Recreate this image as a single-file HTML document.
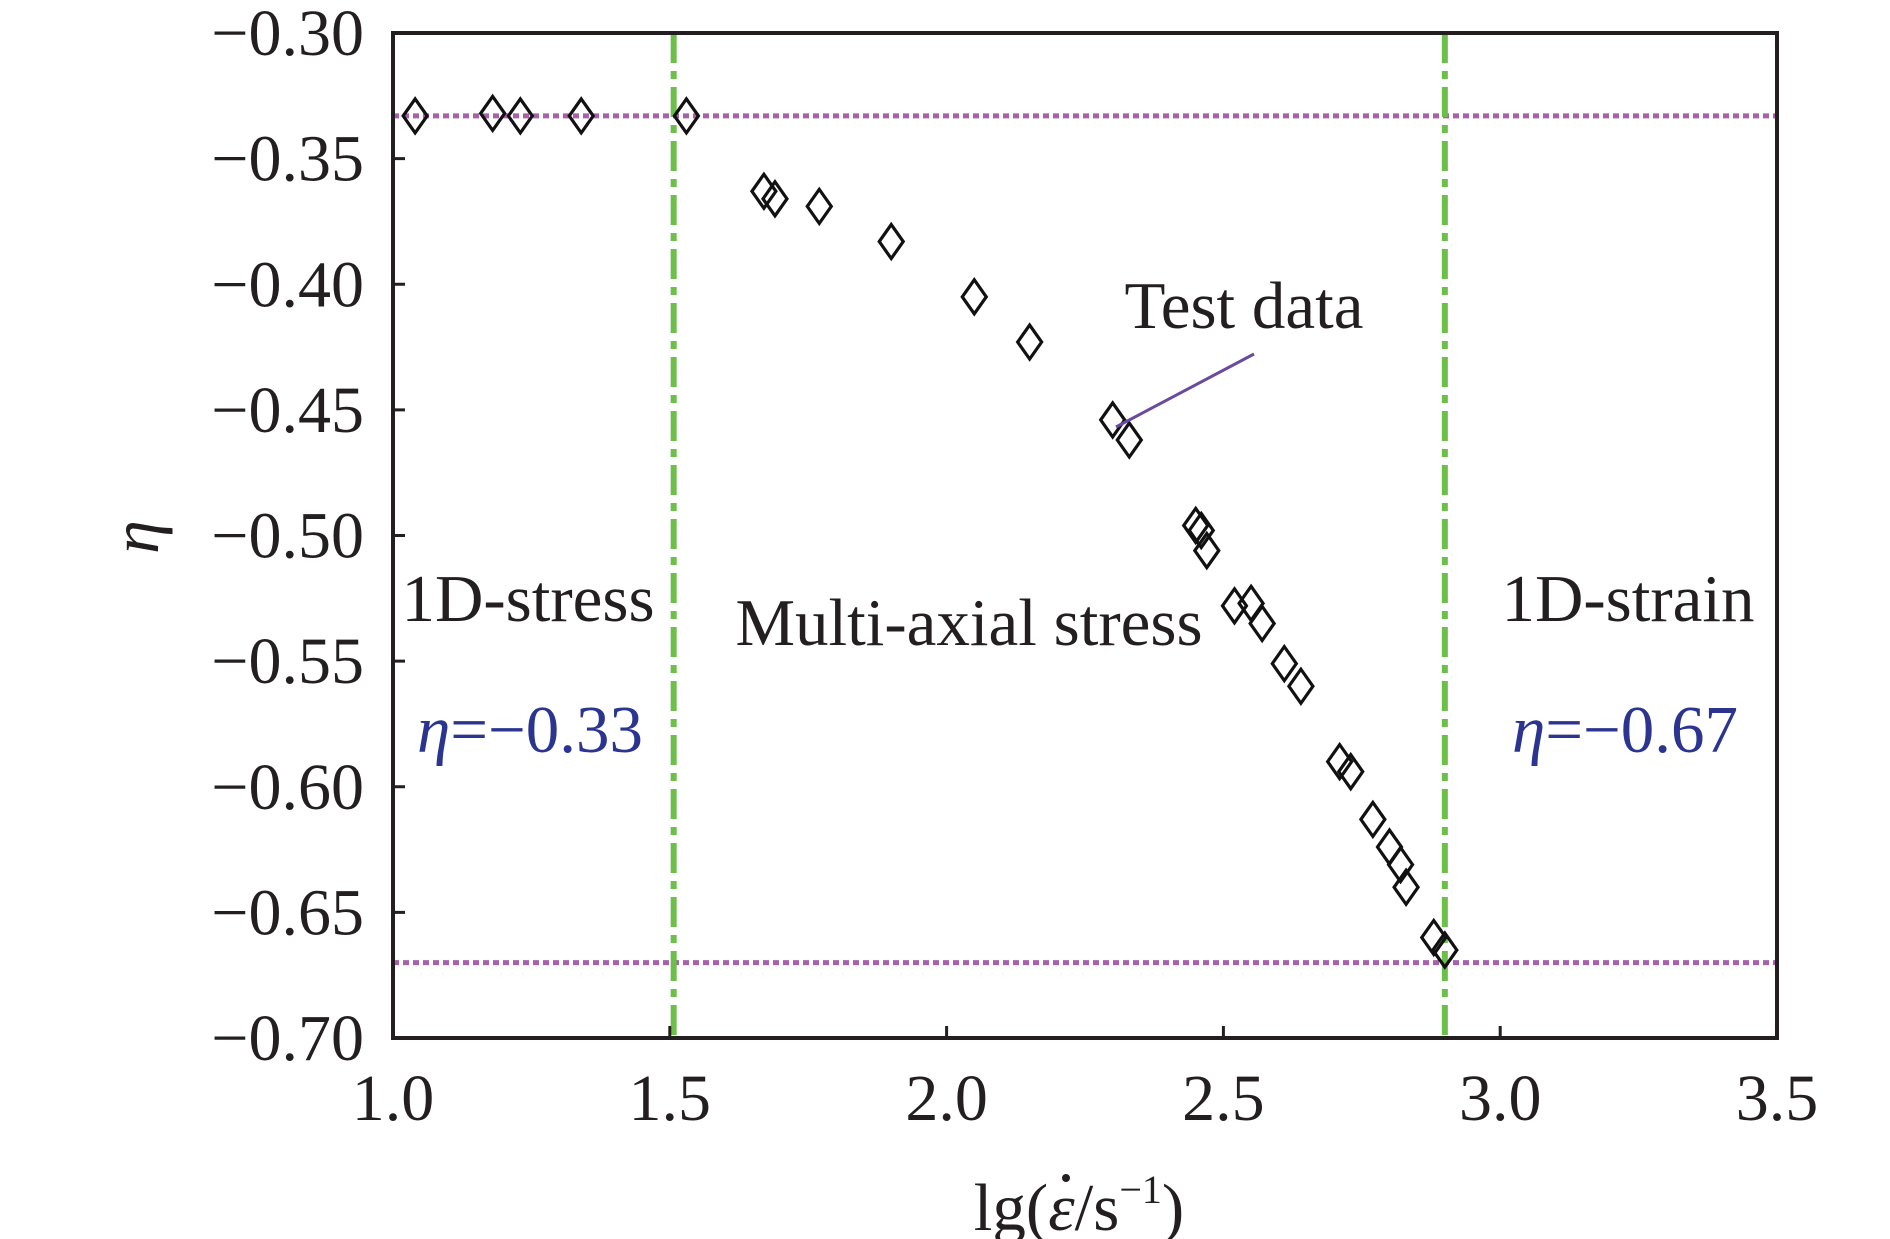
<!DOCTYPE html>
<html><head><meta charset="utf-8"><style>
html,body{margin:0;padding:0;background:#fff;}
svg{display:block;font-family:"Liberation Serif",serif;}
</style></head><body>
<svg id="chart" width="1890" height="1239" viewBox="0 0 1890 1239" xmlns="http://www.w3.org/2000/svg"></svg>
<script>
const xTicks = [1.0, 1.5, 2.0, 2.5, 3.0, 3.5];
const xTickLabels = ["1.0","1.5","2.0","2.5","3.0","3.5"];
const yTicks = [-0.30,-0.35,-0.40,-0.45,-0.50,-0.55,-0.60,-0.65,-0.70];
const yTickLabels = ["\u22120.30","\u22120.35","\u22120.40","\u22120.45","\u22120.50","\u22120.55","\u22120.60","\u22120.65","\u22120.70"];
const strainRate = [1.04,1.18,1.23,1.34,1.53,1.67,1.69,1.77,1.90,2.05,2.15,2.30,2.33,2.45,2.46,2.47,2.52,2.55,2.57,2.61,2.64,2.71,2.73,2.77,2.80,2.82,2.83,2.88,2.90];
const etaValues = [-0.333,-0.332,-0.333,-0.333,-0.333,-0.363,-0.366,-0.369,-0.383,-0.405,-0.423,-0.454,-0.462,-0.496,-0.498,-0.506,-0.528,-0.527,-0.535,-0.551,-0.560,-0.590,-0.594,-0.613,-0.624,-0.631,-0.640,-0.660,-0.665];
const hLines = [-0.333, -0.67];
const vLines = [1.507, 2.90];

const L=393,R=1777,T=33,B=1038;
const X0=1.0,X1=3.5,Y0=-0.70,Y1=-0.30;
const sx=v=>L+(v-X0)/(X1-X0)*(R-L);
const sy=v=>B-(v-Y0)/(Y1-Y0)*(B-T);
const NS="http://www.w3.org/2000/svg";
const svg=document.getElementById('chart');
function mk(tag,attrs,parent){const e=document.createElementNS(NS,tag);for(const k in attrs)e.setAttribute(k,attrs[k]);(parent||svg).appendChild(e);return e;}

hLines.forEach((v,i)=>{
  const l=mk('line',{x1:L,x2:R,y1:sy(v),y2:sy(v),stroke:'#a661a9','stroke-width':5,'stroke-dasharray':'6 4'});
  
  
});
vLines.forEach((v,i)=>{
  const l=mk('line',{x1:sx(v),x2:sx(v),y1:T,y2:B,stroke:'#6cc04a','stroke-width':6,'stroke-dasharray':'30 8 8 8'});
  
  
});

const box=mk('rect',{x:L,y:T,width:R-L,height:B-T,fill:'none',stroke:'#231f20','stroke-width':4});



xTicks.forEach((v,i)=>{
  const t=mk('line',{x1:sx(v),x2:sx(v),y1:B,y2:B-12,stroke:'#231f20','stroke-width':3});
  
  
  const tx=mk('text',{x:sx(v),y:B+82,'text-anchor':'middle','font-size':66,fill:'#231f20'});
  tx.textContent=xTickLabels[i];
  
  
});
yTicks.forEach((v,i)=>{
  const t=mk('line',{x1:L,x2:L+12,y1:sy(v),y2:sy(v),stroke:'#231f20','stroke-width':3});
  
  
  const tx=mk('text',{x:364,y:sy(v)+22,'text-anchor':'end','font-size':66,fill:'#231f20'});
  tx.textContent=yTickLabels[i];
  
  
});

strainRate.forEach((x,i)=>{
  const cx=sx(x),cy=sy(etaValues[i]),w=12,h=17;
  const p=mk('polygon',{points:`${cx},${cy-h} ${cx+w},${cy} ${cx},${cy+h} ${cx-w},${cy}`,fill:'none',stroke:'#111','stroke-width':3.2});
  
  
});

const an=mk('line',{x1:1254,y1:354,x2:1116,y2:427,stroke:'#6a4a9e','stroke-width':3});


function txt(name,x,y,s,fs,fill,style){const t=mk('text',{x:x,y:y,'text-anchor':'middle','font-size':fs,fill:fill});if(style)t.setAttribute('font-style',style);t.innerHTML=s;return t;}
txt('test-data-label',1244,328,'Test data',67,'#231f20');
txt('region-1d-stress',528,621,'1D-stress',67,'#231f20');
txt('region-multi-axial',969,645,'Multi-axial stress',67,'#231f20');
txt('region-1d-strain',1628,621,'1D-strain',67,'#231f20');
txt('eta-033-label',530,752,'<tspan font-style="italic">η</tspan>=−0.33',67,'#2b3590');
txt('eta-067-label',1625,752,'<tspan font-style="italic">η</tspan>=−0.67',67,'#2b3590');
const yt=txt('y-axis-title',0,0,'η',68,'#231f20','italic');
yt.setAttribute('transform','translate(158,537) rotate(-90)');
const xt=txt('x-axis-title',1079,1230,'lg(<tspan font-style="italic">ε</tspan>/s<tspan font-size="40" dy="-27">−1</tspan><tspan dy="27">)</tspan>',67,'#231f20');
const dot=mk('circle',{cx:1066,cy:1178,r:4,fill:'#231f20'});


</script>
</body></html>
